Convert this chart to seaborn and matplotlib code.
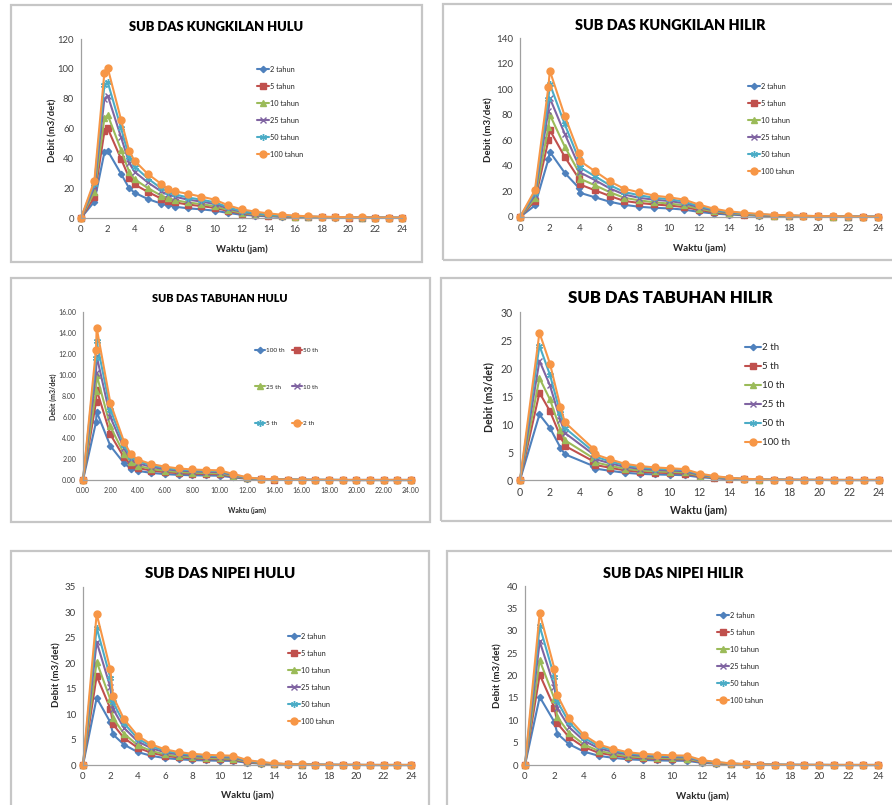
import matplotlib
matplotlib.use("Agg")
import matplotlib.pyplot as plt
import pandas as pd
import seaborn as sns
from matplotlib.patches import Rectangle
from matplotlib.ticker import FormatStrFormatter, MultipleLocator

W, H = 892, 805

# ── data (debit m3/det vs waktu jam) ──
LBL_TAHUN = ["2 tahun", "5 tahun", "10 tahun", "25 tahun", "50 tahun", "100 tahun"]
LBL_TH_HULU = ["100 th", "50 th", "25 th", "10 th", "5 th", "2 th"]
LBL_TH_HILIR = ["2 th", "5 th", "10 th", "25 th", "50 th", "100 th"]

# Kungkilan Hulu
T_KHU = [0, 1, 1.75, 2, 3, 3.6, 4, 5, 6, 6.5, 7, 8, 9, 10, 11, 12, 13, 14, 15, 16, 17, 18, 19, 20, 21, 22, 23, 24]
KHU_2 = [0, 11, 44, 45, 29.5, 20, 17, 12.7, 9.6, 8.5, 7.6, 6.5, 5.8, 4.9, 3.4, 2.2, 1.6, 1.1, 0.8, 0.6, 0.45, 0.35, 0.3, 0.2, 0.15, 0.1, 0.1, 0.05]
KHU_5 = [0, 14, 58, 60, 39.5, 27, 22.5, 17.5, 13, 11.5, 10.5, 9, 8, 6.8, 4.7, 3, 2.2, 1.5, 1.1, 0.8, 0.6, 0.5, 0.4, 0.3, 0.2, 0.15, 0.12, 0.08]
KHU_10 = [0, 17.5, 67, 69, 45.5, 31, 26, 20, 15, 13.3, 12, 10.4, 9.3, 7.9, 5.4, 3.5, 2.5, 1.75, 1.3, 0.95, 0.7, 0.55, 0.45, 0.35, 0.25, 0.18, 0.14, 0.1]
KHU_25 = [0, 20.5, 80, 82, 54, 37, 31, 23.8, 17.8, 15.8, 14.3, 12.3, 11, 9.4, 6.4, 4.2, 3, 2.1, 1.5, 1.1, 0.85, 0.65, 0.5, 0.4, 0.3, 0.22, 0.16, 0.12]
KHU_50 = [0, 23, 89, 91, 60, 41, 34.5, 26.5, 19.8, 17.5, 15.9, 13.7, 12.3, 10.5, 7.2, 4.7, 3.3, 2.3, 1.7, 1.25, 0.95, 0.75, 0.55, 0.45, 0.33, 0.25, 0.18, 0.13]
KHU_100 = [0, 25, 97.5, 100.5, 65.7, 45, 38.4, 29.5, 22.8, 19.7, 17.9, 16.2, 14.3, 12.3, 8.5, 5.8, 4.3, 3.1, 2.2, 1.6, 1.1, 0.9, 0.7, 0.5, 0.4, 0.3, 0.25, 0.18]

# Kungkilan Hilir
T_KHI = [0, 1, 1.9, 2, 3, 3.95, 4, 5, 6, 7, 8, 9, 10, 11, 12, 13, 14, 15, 16, 17, 18, 19, 20, 21, 22, 23, 24]
KHI_2 = [0, 9, 45, 51, 34.5, 22.7, 19, 15.5, 12, 9.5, 8, 7.2, 6.7, 5.8, 4, 2.7, 1.9, 1.4, 1.0, 0.7, 0.55, 0.4, 0.3, 0.23, 0.17, 0.13, 0.1]
KHI_5 = [0, 12.5, 60, 68, 47, 30, 25.5, 21, 16.5, 12.5, 11, 9.8, 9, 7.8, 5.5, 3.7, 2.6, 1.9, 1.4, 1.0, 0.75, 0.55, 0.4, 0.32, 0.23, 0.17, 0.13]
KHI_10 = [0, 14.5, 70, 80, 55, 35, 30, 25, 19.5, 15, 13, 11.5, 10.5, 9.2, 6.5, 4.4, 3.0, 2.2, 1.6, 1.15, 0.85, 0.65, 0.5, 0.38, 0.27, 0.2, 0.15]
KHI_25 = [0, 17, 83, 93, 65, 40, 35, 29, 22.5, 17.5, 15, 13.5, 12.5, 10.8, 7.6, 5.2, 3.6, 2.6, 1.9, 1.35, 1.0, 0.8, 0.55, 0.45, 0.32, 0.24, 0.18]
KHI_50 = [0, 19, 92, 104, 72.5, 45, 39, 32, 25, 19.5, 17, 15, 14, 12, 8.5, 5.8, 4.0, 2.9, 2.1, 1.5, 1.15, 0.9, 0.65, 0.5, 0.36, 0.27, 0.2]
KHI_100 = [0, 21, 101.4, 114.4, 79, 50, 44, 36, 28, 22, 19.3, 16.7, 15.4, 13.6, 9.7, 6.5, 4.4, 3.3, 2.4, 1.7, 1.3, 1.0, 0.7, 0.55, 0.4, 0.3, 0.22]

# Tabuhan Hulu (legend order as printed on the chart)
T_THU = [0, 0.95, 1, 2, 3, 3.5, 4, 5, 6, 7, 8, 9, 10, 11, 12, 13, 14, 15, 16, 17, 18, 19, 20, 21, 22, 23, 24]
THU_A = [0, 5.5, 6.5, 3.25, 1.6, 1.08, 0.87, 0.68, 0.56, 0.49, 0.45, 0.43, 0.41, 0.25, 0.11, 0.05, 0.03, 0.02, 0.01, 0.01, 0, 0, 0, 0, 0, 0, 0]
THU_B = [0, 7.4, 8.6, 4.35, 2.15, 1.45, 1.15, 0.9, 0.75, 0.65, 0.6, 0.57, 0.55, 0.34, 0.15, 0.07, 0.04, 0.02, 0.01, 0.01, 0, 0, 0, 0, 0, 0, 0]
THU_C = [0, 8.5, 10.0, 5.1, 2.5, 1.7, 1.35, 1.05, 0.88, 0.76, 0.7, 0.66, 0.64, 0.39, 0.17, 0.08, 0.05, 0.03, 0.02, 0.01, 0.01, 0, 0, 0, 0, 0, 0]
THU_D = [0, 10.2, 11.8, 6.0, 3.0, 2.0, 1.6, 1.25, 1.03, 0.9, 0.83, 0.78, 0.76, 0.46, 0.2, 0.1, 0.06, 0.03, 0.02, 0.01, 0.01, 0, 0, 0, 0, 0, 0]
THU_E = [0, 11.6, 13.2, 6.7, 3.3, 2.2, 1.8, 1.4, 1.15, 1.0, 0.92, 0.87, 0.85, 0.52, 0.22, 0.11, 0.07, 0.04, 0.02, 0.01, 0.01, 0, 0, 0, 0, 0, 0]
THU_F = [0, 12.4, 14.5, 7.35, 3.65, 2.45, 1.95, 1.52, 1.27, 1.1, 1.0, 0.95, 0.92, 0.57, 0.25, 0.12, 0.07, 0.04, 0.02, 0.01, 0.01, 0, 0, 0, 0, 0, 0]

# Tabuhan Hilir
T_THI = [0, 1.3, 2, 2.7, 3, 4.9, 5, 6, 7, 8, 9, 10, 11, 12, 13, 14, 15, 16, 17, 18, 19, 20, 21, 22, 23, 24]
THI_2 = [0, 11.7, 9.3, 5.8, 4.6, 2.5, 2.05, 1.65, 1.3, 1.1, 1.0, 0.93, 0.86, 0.51, 0.31, 0.17, 0.1, 0.05, 0.03, 0.02, 0.01, 0.01, 0, 0, 0, 0]
THI_5 = [0, 15.6, 12.3, 7.8, 6.1, 3.35, 2.7, 2.2, 1.72, 1.47, 1.33, 1.24, 1.15, 0.68, 0.41, 0.23, 0.13, 0.07, 0.04, 0.02, 0.01, 0.01, 0, 0, 0, 0]
THI_10 = [0, 18.2, 14.4, 9.0, 7.1, 3.9, 3.2, 2.55, 2.0, 1.72, 1.55, 1.45, 1.35, 0.8, 0.48, 0.27, 0.15, 0.08, 0.04, 0.02, 0.01, 0.01, 0, 0, 0, 0]
THI_25 = [0, 21.3, 16.9, 10.7, 8.4, 4.6, 3.75, 3.0, 2.35, 2.0, 1.82, 1.7, 1.58, 0.93, 0.57, 0.32, 0.18, 0.1, 0.05, 0.03, 0.02, 0.01, 0, 0, 0, 0]
THI_50 = [0, 24, 18.8, 11.9, 9.3, 5.1, 4.2, 3.35, 2.65, 2.25, 2.05, 1.9, 1.78, 1.05, 0.63, 0.36, 0.2, 0.11, 0.06, 0.03, 0.02, 0.01, 0, 0, 0, 0]
THI_100 = [0, 26.3, 20.8, 13.1, 10.3, 5.6, 4.6, 3.7, 2.9, 2.5, 2.25, 2.1, 1.95, 1.15, 0.7, 0.4, 0.22, 0.12, 0.07, 0.04, 0.02, 0.01, 0.01, 0, 0, 0]

# Nipei Hulu / Hilir
T_NIP = [0, 1, 2, 2.2, 3, 4, 5, 6, 7, 8, 9, 10, 11, 12, 13, 14, 15, 16, 17, 18, 19, 20, 21, 22, 23, 24]
NHU_2 = [0, 13.2, 8.4, 6.0, 4.0, 2.55, 1.8, 1.36, 1.13, 0.97, 0.89, 0.84, 0.81, 0.44, 0.27, 0.15, 0.08, 0.05, 0.03, 0.02, 0.01, 0.01, 0, 0, 0, 0]
NHU_5 = [0, 17.5, 11.1, 8.0, 5.3, 3.4, 2.4, 1.8, 1.5, 1.3, 1.18, 1.12, 1.08, 0.58, 0.36, 0.2, 0.11, 0.06, 0.04, 0.02, 0.01, 0.01, 0, 0, 0, 0]
NHU_10 = [0, 20.3, 12.9, 9.2, 6.15, 3.9, 2.75, 2.1, 1.73, 1.5, 1.36, 1.29, 1.24, 0.67, 0.41, 0.23, 0.13, 0.07, 0.04, 0.02, 0.01, 0.01, 0, 0, 0, 0]
NHU_25 = [0, 24.2, 15.3, 11.0, 7.3, 4.65, 3.3, 2.5, 2.07, 1.78, 1.62, 1.54, 1.48, 0.8, 0.49, 0.27, 0.15, 0.08, 0.05, 0.03, 0.02, 0.01, 0, 0, 0, 0]
NHU_50 = [0, 27.0, 17.1, 12.3, 8.2, 5.2, 3.7, 2.8, 2.3, 2.0, 1.82, 1.72, 1.66, 0.89, 0.55, 0.3, 0.17, 0.09, 0.05, 0.03, 0.02, 0.01, 0, 0, 0, 0]
NHU_100 = [0, 29.7, 18.8, 13.5, 9.0, 5.75, 4.05, 3.07, 2.55, 2.2, 2.0, 1.9, 1.83, 0.98, 0.6, 0.33, 0.18, 0.1, 0.05, 0.03, 0.02, 0.01, 0.01, 0, 0, 0]

NHI_2 = [0, 15.2, 9.6, 7.0, 4.65, 3.0, 2.06, 1.6, 1.27, 1.12, 1.03, 0.96, 0.94, 0.49, 0.3, 0.17, 0.09, 0.05, 0.03, 0.02, 0.01, 0.01, 0, 0, 0, 0]
NHI_5 = [0, 20.2, 12.8, 9.3, 6.2, 4.0, 2.75, 2.15, 1.7, 1.49, 1.37, 1.28, 1.25, 0.66, 0.4, 0.22, 0.12, 0.07, 0.04, 0.02, 0.01, 0.01, 0, 0, 0, 0]
NHI_10 = [0, 23.4, 14.8, 10.7, 7.15, 4.6, 3.17, 2.48, 1.96, 1.72, 1.58, 1.48, 1.44, 0.76, 0.46, 0.26, 0.14, 0.08, 0.04, 0.02, 0.01, 0.01, 0, 0, 0, 0]
NHI_25 = [0, 27.6, 17.5, 12.7, 8.45, 5.45, 3.75, 2.93, 2.32, 2.03, 1.87, 1.75, 1.7, 0.9, 0.55, 0.3, 0.17, 0.09, 0.05, 0.03, 0.02, 0.01, 0, 0, 0, 0]
NHI_50 = [0, 31.0, 19.6, 14.2, 9.5, 6.1, 4.2, 3.3, 2.6, 2.28, 2.1, 1.96, 1.91, 1.0, 0.61, 0.34, 0.19, 0.1, 0.06, 0.03, 0.02, 0.01, 0, 0, 0, 0]
NHI_100 = [0, 34.0, 21.5, 15.6, 10.4, 6.7, 4.6, 3.6, 2.85, 2.5, 2.3, 2.15, 2.1, 1.1, 0.67, 0.37, 0.2, 0.11, 0.06, 0.03, 0.02, 0.01, 0.01, 0, 0, 0]

# excel-2007 default series styling
COLORS = ["#4F81BD", "#C0504D", "#9BBB59", "#8064A2", "#4BACC6", "#F79646"]
MARKERS = ["D", "s", "^", "x", (6, 2, 0), "o"]
MSIZE = [3.2, 4.2, 4.2, 4.2, 5.0, 5.0]

# layout in pixels: border box, plot box (x0, x1, y of 0, y of ymax), title, labels, legend
PANELS = [
    dict(title="SUB DAS KUNGKILAN HULU", tsize=9.4, tpos=(216, 27),
         time=T_KHU, series=[KHU_2, KHU_5, KHU_10, KHU_25, KHU_50, KHU_100], labels=LBL_TAHUN,
         border=(11, 5, 422, 262), plot=(81, 402, 218, 39), ymax=120, ystep=20, fmt=None,
         ylab=(53, 130), xlab=(242, 249), leg=(257, 66), lspace=1.36, ncol=1, fs=5.3, tfs=6.8),
    dict(title="SUB DAS KUNGKILAN HILIR", tsize=10.4, tpos=(670, 25),
         time=T_KHI, series=[KHI_2, KHI_5, KHI_10, KHI_25, KHI_50, KHI_100], labels=LBL_TAHUN,
         border=(443, 4, 896, 260), plot=(520, 878, 217, 38), ymax=140, ystep=20, fmt=None,
         ylab=(489, 130), xlab=(699, 248), leg=(748, 83), lspace=1.36, ncol=1, fs=5.3, tfs=7.0),
    dict(title="SUB DAS TABUHAN HULU", tsize=7.8, tpos=(220, 298),
         time=T_THU, series=[THU_A, THU_B, THU_C, THU_D, THU_E, THU_F], labels=LBL_TH_HULU,
         border=(11, 278, 430, 522), plot=(83, 411, 480, 312), ymax=16, ystep=2, fmt="%.2f",
         ylab=(53, 397), xlab=(247, 510), leg=(255, 348), lspace=4.8, ncol=2, fs=4.6, tfs=5.0),
    dict(title="SUB DAS TABUHAN HILIR", tsize=12.1, tpos=(670, 298),
         time=T_THI, series=[THI_2, THI_5, THI_10, THI_25, THI_50, THI_100], labels=LBL_TH_HILIR,
         border=(441, 278, 896, 521), plot=(520, 879, 480, 312), ymax=30, ystep=5, fmt=None,
         ylab=(489, 397), xlab=(698, 510), leg=(745, 343), lspace=1.03, ncol=1, fs=7, tfs=7.6),
    dict(title="SUB DAS NIPEI HULU", tsize=10.8, tpos=(220, 573),
         time=T_NIP, series=[NHU_2, NHU_5, NHU_10, NHU_25, NHU_50, NHU_100], labels=LBL_TAHUN,
         border=(11, 551, 429, 810), plot=(83, 411, 765, 587), ymax=35, ystep=5, fmt=None,
         ylab=(57, 675), xlab=(247, 795), leg=(288, 633), lspace=1.36, ncol=1, fs=5.3, tfs=7.0),
    dict(title="SUB DAS NIPEI HILIR", tsize=10.3, tpos=(673, 573),
         time=T_NIP, series=[NHI_2, NHI_5, NHI_10, NHI_25, NHI_50, NHI_100], labels=LBL_TAHUN,
         border=(447, 551, 896, 810), plot=(525, 878, 765, 586), ymax=40, ystep=5, fmt=None,
         ylab=(498, 676), xlab=(702, 796), leg=(717, 612), lspace=1.36, ncol=1, fs=5.3, tfs=7.0),
]


def fx(px):
    return px / W


def fy(py):
    return 1 - py / H


def draw_panel(fig, p):
    l, t, r, b = p["border"]
    fig.patches.append(Rectangle((fx(l), fy(b)), (r - l) / W, (b - t) / H,
                                 transform=fig.transFigure, fill=False,
                                 ec="#c6c6c6", lw=1.6))

    x0, x1, ybot, ytop = p["plot"]
    ax = fig.add_axes([fx(x0), fy(ybot), (x1 - x0) / W, (ybot - ytop) / H])

    rows = []
    for lab, vals in zip(p["labels"], p["series"]):
        for tt, q in zip(p["time"], vals):
            rows.append((lab, tt, q))
    df = pd.DataFrame(rows, columns=["periode", "waktu", "debit"])

    # seaborn refuses mixed filled / line-art markers, so swap them in afterwards
    sns.lineplot(data=df, x="waktu", y="debit", hue="periode", style="periode",
                 hue_order=p["labels"], style_order=p["labels"],
                 palette=COLORS, markers=True, dashes=False,
                 linewidth=1.5, legend=False, sort=False, ax=ax)
    lines = ax.get_lines()
    for line, c, m, ms in zip(lines, COLORS, MARKERS, MSIZE):
        line.set_marker(m)
        line.set_markeredgecolor(c)
        line.set_markerfacecolor(c)
        line.set_markersize(ms)
        line.set_markeredgewidth(1.0)
        line.set_clip_on(False)

    ax.set_xlim(0, 24)
    ax.set_ylim(0, p["ymax"])
    ax.xaxis.set_major_locator(MultipleLocator(2))
    ax.yaxis.set_major_locator(MultipleLocator(p["ystep"]))
    if p["fmt"]:
        ax.xaxis.set_major_formatter(FormatStrFormatter(p["fmt"]))
        ax.yaxis.set_major_formatter(FormatStrFormatter(p["fmt"]))
    ax.tick_params(axis="both", length=0, labelsize=p["tfs"], colors="#404040", pad=5)
    ax.set_xlabel("")
    ax.set_ylabel("")
    for side in ["top", "right"]:
        ax.spines[side].set_visible(False)
    for side in ["left", "bottom"]:
        ax.spines[side].set_color("#a0a0a0")
        ax.spines[side].set_linewidth(0.9)
    ax.patch.set_alpha(0)

    fig.text(fx(p["tpos"][0]), fy(p["tpos"][1]), p["title"], ha="center", va="center",
             fontsize=p["tsize"], fontweight="heavy", color="black")
    fig.text(fx(p["ylab"][0]), fy(p["ylab"][1]), "Debit (m3/det)", rotation=90,
             ha="center", va="center", fontsize=p["tfs"], fontweight="bold")
    fig.text(fx(p["xlab"][0]), fy(p["xlab"][1]), "Waktu (jam)",
             ha="center", va="center", fontsize=p["tfs"], fontweight="bold")

    handles, labels = list(lines), list(p["labels"])
    if p["ncol"] == 2:
        # excel lays the two-column legend out row by row
        order = [0, 2, 4, 1, 3, 5]
        handles = [handles[i] for i in order]
        labels = [labels[i] for i in order]
    ax.legend(handles, labels, loc="upper left",
              bbox_to_anchor=(fx(p["leg"][0]), fy(p["leg"][1])),
              bbox_transform=fig.transFigure, frameon=False, ncol=p["ncol"],
              fontsize=p["fs"], handlelength=1.6, handletextpad=0.2,
              labelspacing=p["lspace"], borderpad=0, borderaxespad=0,
              columnspacing=1.0)
    return ax


sns.set_style("white")
plt.rcParams["font.family"] = ["Lato", "DejaVu Sans"]

fig = plt.figure(figsize=(W / 100, H / 100), dpi=100)
fig.patch.set_facecolor("white")
for p in PANELS:
    draw_panel(fig, p)

fig.savefig("out.png", dpi=100)
